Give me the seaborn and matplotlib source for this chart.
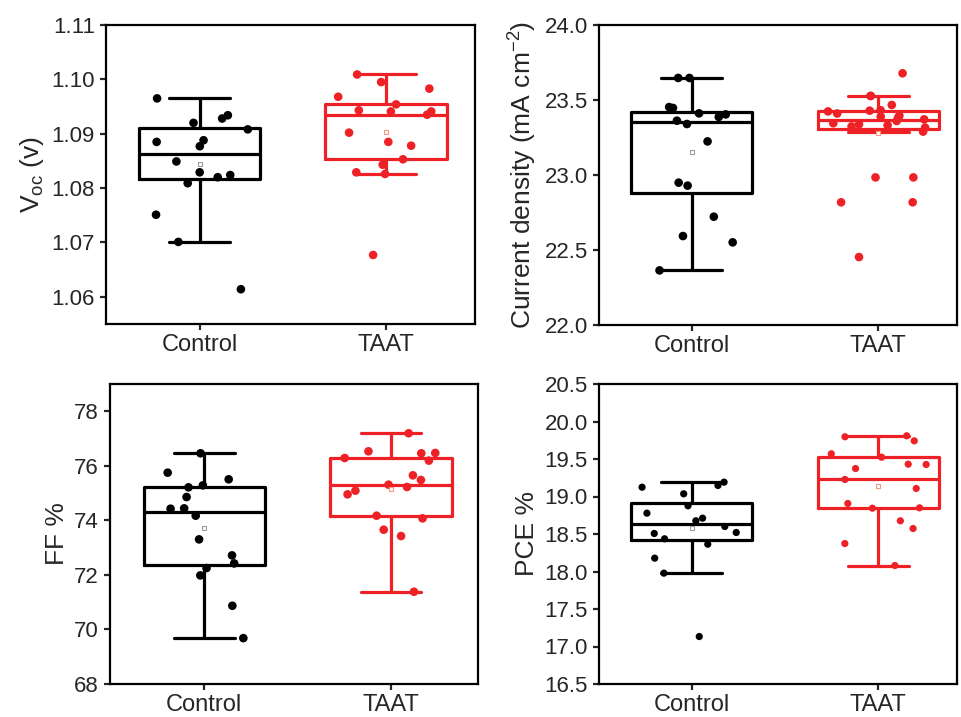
import numpy as np
import pandas as pd
import matplotlib
matplotlib.use("Agg")
import matplotlib.pyplot as plt
import seaborn as sns

# ---------------- data ----------------
groups = ["Control", "TAAT"]

voc_control = [1.0965, 1.0934, 1.0920, 1.0928, 1.0908, 1.0888, 1.0877, 1.0885,
               1.0849, 1.0829, 1.0820, 1.0824, 1.0809, 1.0751, 1.0701, 1.0614]
voc_taat = [1.1009, 1.0995, 1.0983, 1.0968, 1.0954, 1.0941, 1.0943, 1.0941, 1.0935,
            1.0902, 1.0885, 1.0878, 1.0853, 1.0843, 1.0829, 1.0826, 1.0677]

jsc_control = [23.647, 23.647, 23.404, 23.387, 23.447, 23.411, 23.453, 23.340,
               23.362, 23.224, 22.949, 22.929, 22.722, 22.593, 22.551, 22.364]
jsc_taat = [23.678, 23.527, 23.527, 23.467, 23.432, 23.429, 23.424, 23.410,
            23.395, 23.389, 23.382, 23.371, 23.360, 23.345, 23.338, 23.331,
            23.324, 23.316, 23.289, 22.984, 22.984, 22.818, 22.818, 22.453]

ff_control = [76.459, 75.505, 75.284, 75.749, 75.211, 74.856, 74.440, 74.428,
              74.171, 73.303, 72.716, 72.422, 72.251, 71.982, 70.869, 69.682]
ff_taat = [77.193, 76.459, 76.471, 76.287, 76.190, 76.532, 75.309, 75.480, 75.651,
           75.089, 75.223, 74.954, 74.171, 74.073, 73.657, 73.425, 71.382]

pce_control = [19.191, 19.147, 19.124, 19.036, 18.876, 18.778, 18.676, 18.711,
               18.600, 18.520, 18.507, 18.436, 18.364, 18.178, 17.978, 17.133]
pce_taat = [19.796, 19.809, 19.742, 19.569, 19.524, 19.431, 19.427, 19.373, 19.227,
            19.107, 18.849, 18.907, 18.844, 18.676, 18.573, 18.373, 18.080]

ylabels = ["V$_{oc}$ (v)", "Current density (mA cm$^{-2}$)", "FF %", "PCE %"]
ylims = [(1.055, 1.11), (22.0, 24.0), (68, 79), (16.5, 20.5)]
yticks = [np.arange(1.06, 1.1101, 0.01), np.arange(22.0, 24.01, 0.5),
          np.arange(68, 78.1, 2), np.arange(16.5, 20.51, 0.5)]
ytickfmt = ["{:.2f}", "{:.1f}", "{:.0f}", "{:.1f}"]

# ---------------- style ----------------
sns.set_style("ticks")
plt.rcParams["font.family"] = ["Liberation Sans", "DejaVu Sans"]
plt.rcParams["mathtext.fontset"] = "custom"
plt.rcParams["mathtext.rm"] = "Liberation Sans"
plt.rcParams["mathtext.it"] = "Liberation Sans"
plt.rcParams["mathtext.default"] = "regular"

palette = {"Control": "#000000", "TAAT": "#EE2226"}
mean_colors = {"Control": "#9a9a9a", "TAAT": "#F39A80"}

W, H = 962, 717
fig = plt.figure(figsize=(W / 100, H / 100), dpi=100)

# axes boxes in pixels: left, top, right, bottom
boxes_px = [(106, 25, 475, 324), (599, 25, 957, 325),
            (110, 384, 478, 684), (599, 384, 957, 684)]
xlims = [(-0.503, 1.478), (-0.497, 1.422), (-0.505, 1.466), (-0.497, 1.422)]

datasets = [(voc_control, voc_taat), (jsc_control, jsc_taat),
            (ff_control, ff_taat), (pce_control, pce_taat)]
dot_sizes = [6.2, 6.2, 6.2, 5.2]

np.random.seed(7)
for i, ((c, t), (l, tp, r, b)) in enumerate(zip(datasets, boxes_px)):
    ax = fig.add_axes([l / W, (H - b) / H, (r - l) / W, (b - tp) / H])
    df = pd.DataFrame({"group": ["Control"] * len(c) + ["TAAT"] * len(t),
                       "val": list(c) + list(t)})
    sns.boxplot(data=df, x="group", y="val", hue="group", order=groups,
                hue_order=groups, palette=palette, fill=False, width=0.65,
                linewidth=2.3, showfliers=False, showmeans=True,
                meanprops=dict(marker="s", markersize=3.2, markerfacecolor="white",
                               markeredgewidth=0.8),
                legend=False, ax=ax)
    for ln in ax.lines:
        if ln.get_marker() == "s":
            xd = np.asarray(ln.get_xdata(), dtype=float)
            g = "Control" if xd.mean() < 0.5 else "TAAT"
            ln.set_markeredgecolor(mean_colors[g])
            ln.set_color(mean_colors[g])
            ln.set_zorder(5)
    sns.stripplot(data=df, x="group", y="val", hue="group", order=groups,
                  hue_order=groups, palette=palette, size=dot_sizes[i],
                  jitter=0.27, linewidth=0, legend=False, ax=ax, zorder=3)
    ax.set_ylim(*ylims[i])
    ax.set_xlim(*xlims[i])
    ax.set_yticks(yticks[i])
    ax.set_yticklabels([ytickfmt[i].format(v) for v in yticks[i]])
    ax.set_xlabel("")
    ax.set_ylabel(ylabels[i], fontsize=19, labelpad=4)
    ax.tick_params(axis="y", labelsize=16, direction="out", length=4, width=1.6, pad=4)
    ax.tick_params(axis="x", labelsize=17, direction="out", length=4, width=1.6, pad=3)
    for sp in ax.spines.values():
        sp.set_visible(True)
        sp.set_linewidth(1.6)
        sp.set_color("black")

fig.savefig("out.png", dpi=100)
